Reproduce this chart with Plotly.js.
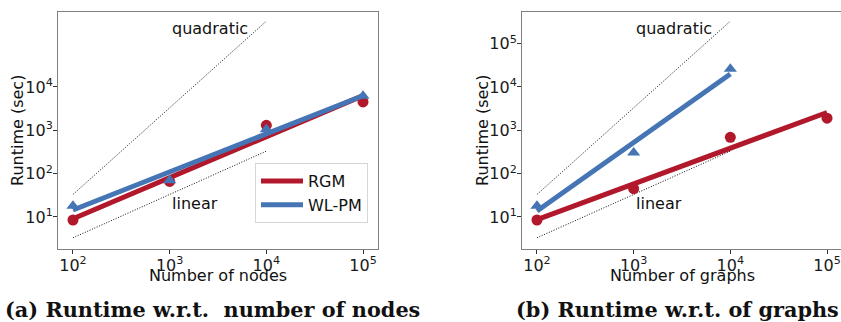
<!DOCTYPE html>
<html>
<head>
<meta charset="utf-8">
<script src="https://cdn.plot.ly/plotly-3.0.1.min.js"></script>
<style>
  html, body { margin: 0; padding: 0; background: #fff; overflow: hidden; }
  #chart { width: 845px; height: 322px; }
</style>
</head>
<body>
<div id="chart"></div>
<script>
// Problem sizes on the x axis (number of nodes / number of graphs)
const sizes = [100, 1000, 10000, 100000];
const tickVals = [100, 1000, 10000, 100000];
const tickText = ['10<sup>2</sup>', '10<sup>3</sup>', '10<sup>4</sup>', '10<sup>5</sup>'];
const yTickValsA = [10, 100, 1000, 10000];
const yTickTextA = ['10<sup>1</sup>', '10<sup>2</sup>', '10<sup>3</sup>', '10<sup>4</sup>'];
const yTickValsB = [10, 100, 1000, 10000, 100000];
const yTickTextB = ['10<sup>1</sup>', '10<sup>2</sup>', '10<sup>3</sup>', '10<sup>4</sup>', '10<sup>5</sup>'];

// (a) runtime (sec) vs number of nodes
const nodesRGM = [8.5, 66, 1300, 4500];
const nodesWLPM = [18, 70, 1050, 6200];

// (b) runtime (sec) vs number of graphs
const graphSizesWLPM = [100, 1000, 10000];
const graphsRGM = [8.5, 45, 690, 1900];
const graphsWLPM = [18, 305, 26000];

// reference growth guides
const refX = [100, 10000];
const linearY = [3.3, 330];
const quadraticY = [33, 330000];

const RED = '#b2182b';
const BLUE = '#4575b4';
const FONT = 'DejaVu Sans, sans-serif';

// least-squares fit in log-log space, evaluated at the first and last x
function logFit(xs, ys) {
  const lx = xs.map(Math.log10), ly = ys.map(Math.log10);
  const n = lx.length;
  const mx = lx.reduce((a, b) => a + b, 0) / n;
  const my = ly.reduce((a, b) => a + b, 0) / n;
  let sxy = 0, sxx = 0;
  for (let i = 0; i < n; i++) { sxy += (lx[i] - mx) * (ly[i] - my); sxx += (lx[i] - mx) ** 2; }
  const slope = sxy / sxx;
  const ends = [xs[0], xs[n - 1]];
  return { x: ends, y: ends.map(v => Math.pow(10, my + slope * (Math.log10(v) - mx))) };
}

function guides(xa, ya) {
  const dot = { color: '#111', width: 1, dash: '1px,1.6px' };
  return [
    { x: refX, y: quadraticY, xaxis: xa, yaxis: ya, mode: 'lines', line: dot, showlegend: false, hoverinfo: 'skip' },
    { x: refX, y: linearY, xaxis: xa, yaxis: ya, mode: 'lines', line: dot, showlegend: false, hoverinfo: 'skip' }
  ];
}

function series(xs, ys, color, symbol, size, name, xa, ya, legend) {
  const fit = logFit(xs, ys);
  return [
    { x: fit.x, y: fit.y, xaxis: xa, yaxis: ya, mode: 'lines', name: name,
      line: { color: color, width: 5 }, showlegend: legend, legendgroup: name },
    { x: xs, y: ys, xaxis: xa, yaxis: ya, mode: 'markers', name: name,
      marker: { color: color, symbol: symbol, size: size }, showlegend: false, legendgroup: name }
  ];
}

const traces = [].concat(
  guides('x', 'y'),
  series(sizes, nodesRGM, RED, 'circle', 11, 'RGM', 'x', 'y', true),
  series(sizes, nodesWLPM, BLUE, 'triangle-up', 11.5, 'WL-PM', 'x', 'y', true),
  guides('x2', 'y2'),
  series(sizes, graphsRGM, RED, 'circle', 11, 'RGM', 'x2', 'y2', false),
  series(graphSizesWLPM, graphsWLPM, BLUE, 'triangle-up', 11.5, 'WL-PM', 'x2', 'y2', false)
);

const W = 845, H = 322;
const px = v => v / W;
const py = v => (H - v) / H;

function xAxis(domain, anchor) {
  return {
    type: 'log', domain: domain, anchor: anchor, range: [1.845, 5.155],
    tickmode: 'array', tickvals: tickVals, ticktext: tickText,
    showgrid: false, zeroline: false, showline: true, mirror: true,
    linecolor: '#808080', linewidth: 1, ticks: 'outside', ticklen: 4, tickwidth: 1, tickcolor: '#333',
    ticklabelstandoff: -2,
    tickfont: { family: FONT, size: 16, color: '#1a1a1a' }
  };
}
function yAxis(anchor, vals, text) {
  return {
    type: 'log', domain: [py(249), py(12)], anchor: anchor, range: [0.26, 5.73],
    tickmode: 'array', tickvals: vals, ticktext: text,
    showgrid: false, zeroline: false, showline: true, mirror: true,
    linecolor: '#808080', linewidth: 1, ticks: 'outside', ticklen: 4, tickwidth: 1, tickcolor: '#333',
    ticklabelstandoff: -3,
    tickfont: { family: FONT, size: 16, color: '#1a1a1a' }
  };
}

function label(text, xa, ya, x, y, anchor) {
  return { text: text, xref: xa, yref: ya, x: Math.log10(x), y: Math.log10(y),
    xanchor: anchor, yanchor: 'middle', showarrow: false,
    font: { family: FONT, size: 16, color: '#111' } };
}
function paperText(text, x, y, opts) {
  return Object.assign({ text: text, xref: 'paper', yref: 'paper', x: px(x), y: py(y),
    xanchor: 'center', yanchor: 'middle', showarrow: false,
    font: { family: FONT, size: 16, color: '#111' } }, opts || {});
}
const captionFont = { family: 'DejaVu Serif, serif', size: 20.8, color: '#111', weight: 'bold' };

const layout = {
  width: W, height: H,
  margin: { l: 0, r: 0, t: 0, b: 0 },
  paper_bgcolor: '#fff', plot_bgcolor: '#fff',
  xaxis: xAxis([px(58), px(378)], 'y'),
  yaxis: yAxis('x', yTickValsA, yTickTextA),
  xaxis2: xAxis([px(522), px(842)], 'y2'),
  yaxis2: yAxis('x2', yTickValsB, yTickTextB),
  showlegend: true,
  legend: {
    x: px(255), y: py(163), xanchor: 'left', yanchor: 'top',
    bgcolor: '#fff', bordercolor: '#d6d6d6', borderwidth: 1,
    font: { family: FONT, size: 16, color: '#111' },
    itemwidth: 42, tracegroupgap: 0
  },
  annotations: [
    label('quadratic', 'x', 'y', 1000, Math.pow(10, 5.34), 'left'),
    label('linear', 'x', 'y', 1000, Math.pow(10, 1.3), 'left'),
    label('quadratic', 'x2', 'y2', 1000, Math.pow(10, 5.34), 'left'),
    label('linear', 'x2', 'y2', 1000, Math.pow(10, 1.3), 'left'),
    paperText('Number of nodes', 218, 275),
    paperText('Number of graphs', 682, 275),
    paperText('Runtime (sec)', 17, 131, { textangle: -90 }),
    paperText('Runtime (sec)', 482, 131, { textangle: -90 }),
    paperText('(a) Runtime w.r.t.\u00a0 number of nodes', 212, 309, { font: captionFont }),
    paperText('(b) Runtime w.r.t. of graphs', 514, 309, { xanchor: 'left', font: captionFont })
  ]
};

Plotly.newPlot('chart', traces, layout, { staticPlot: true, displayModeBar: false });
</script>
</body>
</html>
